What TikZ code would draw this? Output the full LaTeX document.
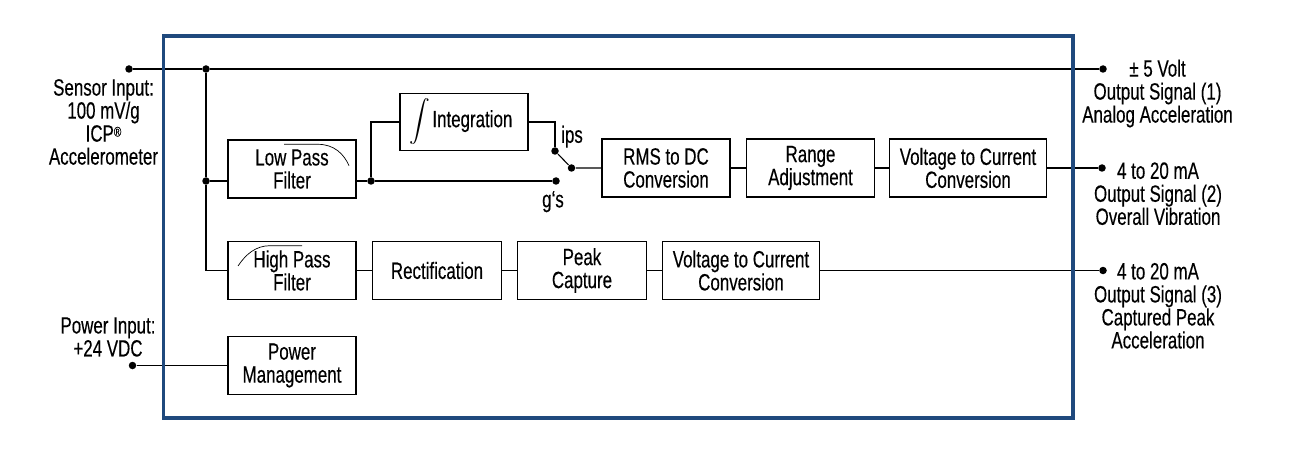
\documentclass[tikz,border=0pt]{standalone}
\usepackage{amsmath}
\usepackage{fontspec}
\setmainfont{Liberation Sans}[FakeStretch=0.72, FakeBold=0.3]
\usepackage{tikz}
\usetikzlibrary{calc}
\definecolor{frameblue}{RGB}{31,73,125}

\begin{document}
\begin{tikzpicture}[x=1pt, y=-1pt, line width=1.1pt,
	every node/.style={font=\fontsize{23.5}{23}\selectfont},
	block/.style={draw, line width=1.1pt, minimum width=128pt, minimum height=58pt, inner sep=0pt, align=center},
	dot/.style={circle, fill, inner sep=0pt, minimum size=7.5pt},
	lbl/.style={align=center, inner sep=0pt}]
	\useasboundingbox (0,0) rectangle (1305,470);

	% blocks
	\node[block] (lpf) at (292,169) {Low Pass\\Filter};
	\node[block, minimum height=57pt] (integ) at (464,122) {\fontsize{19.5}{23}\selectfont$\displaystyle\int$\hspace{2pt}\fontsize{23.5}{23}\selectfont Integration\hspace{6pt}};
	\node[block] (rms) at (666,168) {RMS to DC\\Conversion};
	\node[block] (range) at (810.5,168) {Range\\Adjustment};
	\node[block, minimum width=156.5pt] (vtcA) at (968,168) {Voltage to Current\\Conversion};
	\node[block] (hpf) at (292,270.5) {High Pass\\Filter};
	\node[block, minimum width=129.5pt] (rect) at (437,270.5) {Rectification};
	\node[block, minimum width=129.5pt] (peak) at (582,270.5) {Peak\\Capture};
	\node[block, minimum width=157pt] (vtcB) at (741,270.5) {Voltage to Current\\Conversion};
	\node[block] (pwr) at (292,365.5) {Power\\Management};

	% filter curves
	\draw[line width=0.7pt] (284,144.3) -- (318,144.3) .. controls (334,144.3) and (344,154) .. (349,165.7);
	\draw[line width=0.7pt] (238,266) .. controls (246,254) and (256,245.7) .. (270,245.7) -- (302,245.7);

	% terminals and junctions
	\node[dot] (sIn) at (129,69) {};
	\node[dot] (jA) at (206,69) {};
	\node[dot] (jB) at (206,181) {};
	\node[dot] (jC) at (371,181) {};
	\node[dot] (gs) at (556,181) {};
	\node[dot] (ips) at (555,151) {};
	\node[dot] (sw) at (571.5,168) {};
	\node[dot] (oA) at (1103,69) {};
	\node[dot] (oB) at (1102,168) {};
	\node[dot] (oC) at (1103,270.5) {};
	\node[dot] (pIn) at (132.5,365.5) {};
	\coordinate (busEnd) at (206,270.5);

	% texts
	\node[lbl] (sensorTxt) at (103.5,122) {Sensor Input:\\100 mV/g\\ICP{\fontsize{14}{14}\selectfont\raisebox{5pt}{®}}\\Accelerometer};
	\node[lbl] (powerTxt) at (108,337) {Power Input:\\+24 VDC};
	\node[lbl] (outATxt) at (1157.5,93.5) {± 5 Volt\\Output Signal (1)\\Analog Acceleration};
	\node[lbl] (outBTxt) at (1158,193.7) {4 to 20 mA\\Output Signal (2)\\Overall Vibration};
	\node[lbl] (outCTxt) at (1158,305.8) {4 to 20 mA\\Output Signal (3)\\Captured Peak\\Acceleration};
	\node[lbl] (ipsTxt) at (572,136.7) {ips};
	\node[lbl] (gsTxt) at (553,201.7) {g‘s};

	% wiring
	\draw (sIn) -- (jA) -- (oA);
	\draw (jA) -- (jB) -- (busEnd) -- (hpf.west);
	\draw (jB) -- (jB -| lpf.west);
	\draw (lpf.east |- jC) -- (jC) -- (gs);
	\draw (jC) |- (integ.west);
	\draw (integ.east) -| (ips);
	\draw (ips) -- (sw) -- (rms.west);
	\draw (rms) -- (range);
	\draw (range) -- (vtcA);
	\draw (vtcA) -- (oB);
	\draw (hpf) -- (rect);
	\draw (rect) -- (peak);
	\draw (peak) -- (vtcB);
	\draw (vtcB) -- (oC);
	\draw (pIn) -- (pwr);

	\draw[frameblue, line width=3.5pt] (163.5,36) rectangle (1072.8,418);
\end{tikzpicture}
\end{document}
